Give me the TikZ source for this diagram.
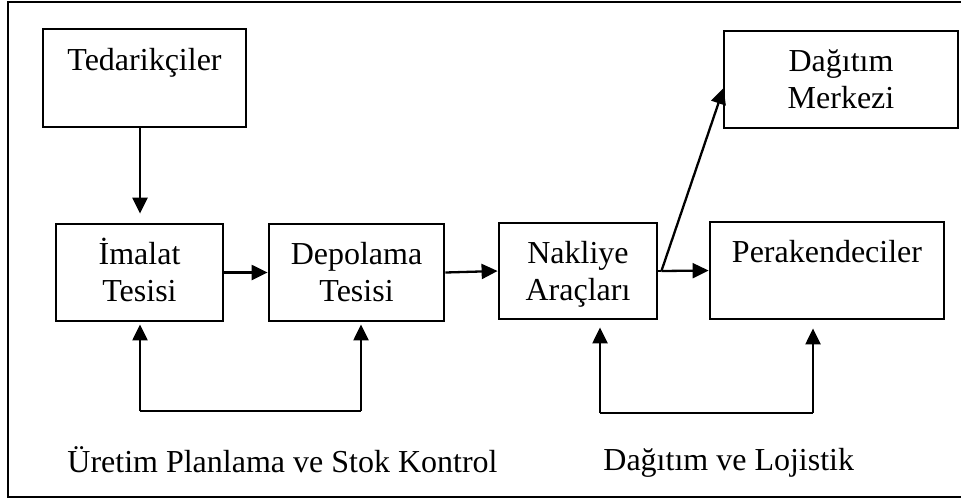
\documentclass[tikz,border=0pt]{standalone}
\usepackage{fontspec}
\setmainfont{Liberation Serif}
\usetikzlibrary{arrows.meta,calc}
% struts for the first and the second line of a two-line box
\newcommand\topstrut{\rule[-4pt]{0pt}{18.5pt}}
\newcommand\botstrut{\rule[-4pt]{0pt}{14.5pt}}
\begin{document}
\begin{tikzpicture}[x=0.5pt,y=-0.5pt,
  every node/.style={font=\fontsize{16}{18.5}\selectfont},
  stage/.style={draw,line width=1.4pt,inner sep=0pt,align=center,minimum height=48.5pt},
  arr/.style={line width=1.15pt,-{Triangle[length=8pt,width=7.5pt]}},
  link/.style={line width=0.7pt},
  caption/.style={anchor=base west,inner sep=0pt}]
\clip (0,0) rectangle (961,499);
% outer frame
\draw[line width=0.8pt] (8,2) rectangle (975,497);

% stages
\node[stage,minimum width=101.5pt,minimum height=49pt] (ted) at (144.5,78) {\topstrut Tedarikçiler\\\botstrut};
\node[stage,minimum width=83.5pt] (ima) at (139.5,272.5) {\topstrut İmalat\\\botstrut Tesisi};
\node[stage,minimum width=87.5pt] (dep) at (356.5,272.5) {\topstrut Depolama\\\botstrut Tesisi};
\node[stage,minimum width=79pt,minimum height=48pt] (nak) at (578,271) {\topstrut Nakliye\\\botstrut Araçları};
\node[stage,minimum width=117pt] (per) at (827,270.5) {\topstrut Perakendeciler\\\botstrut};
\node[stage,minimum width=117pt] (dag) at (841,79.5) {\topstrut Dağıtım\\\botstrut Merkezi};

% main flow
\draw[arr] ($(ted.south)+(-4.5,0)$) -- ($(ima.north)+(0.5,-9)$);
\draw[arr] (ima.east) -- (dep.west);
\draw[arr] (dep.east) -- (nak.west);
\coordinate (split) at ($(nak.east)+(3,0)$);
\draw[line width=1.15pt] (nak.east) -- (split);
\draw[arr] (split) -- (per.west);
\draw[arr] (split) -- ($(dag.west)+(1,8.5)$);

% production planning loop
\coordinate (pl) at (140,411);
\coordinate (pr) at (361,411);
\draw[link] (pl) -- (pr);
\draw[arr,shorten >=1pt] (pl) -- (pl |- ima.south);
\draw[arr,shorten >=1pt] (pr) -- (pr |- dep.south);

% distribution loop
\coordinate (dl) at (600,413);
\coordinate (dr) at (813,413);
\draw[link] (dl) -- (dr);
\draw[arr,shorten >=3.5pt] (dl) -- (dl |- nak.south);
\draw[arr,shorten >=4pt] (dr) -- (dr |- per.south);

% captions
\node[caption] (cap1) at (67,472) {Üretim Planlama ve Stok Kontrol};
\node[caption] (cap2) at (603,470) {Dağıtım ve Lojistik};
\end{tikzpicture}
\end{document}
